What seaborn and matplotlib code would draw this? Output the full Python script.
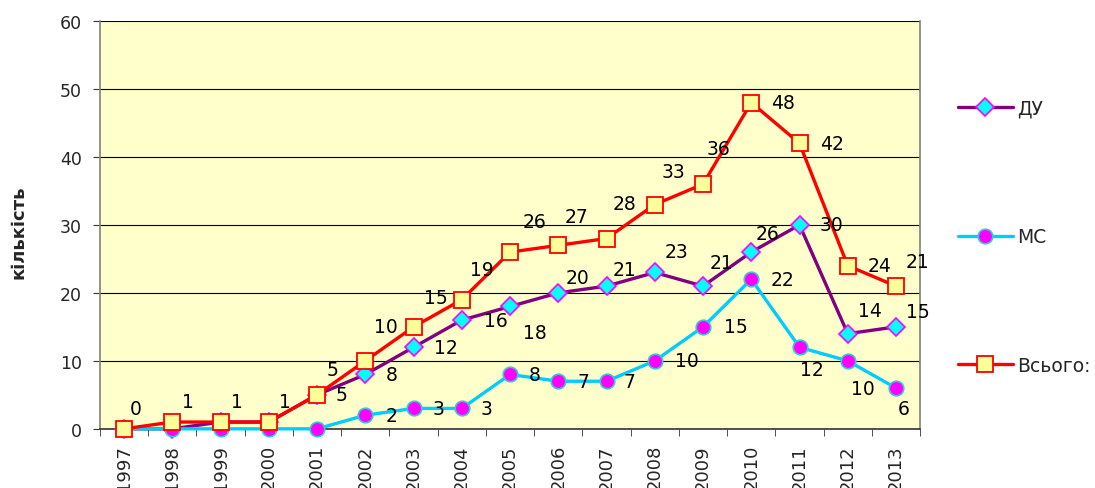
import numpy as np
import pandas as pd
import matplotlib
matplotlib.use("Agg")
import matplotlib.pyplot as plt
import seaborn as sns

# Chart data
years = [str(y) for y in range(1997, 2014)]
du = [0, 0, 1, 1, 5, 8, 12, 16, 18, 20, 21, 23, 21, 26, 30, 14, 15]
ms = [0, 0, 0, 0, 0, 2, 3, 3, 8, 7, 7, 10, 15, 22, 12, 10, 6]
total = [0, 1, 1, 1, 5, 10, 15, 19, 26, 27, 28, 33, 36, 48, 42, 24, 21]

# label offsets in pixels (dx, dy up); None = no label
total_off = [(12, 20), (16, 21), (16, 21), (16, 21), (15, 25), (21, 34), (22, 29),
             (20, 30), (24, 31), (18, 29), (18, 35), (19, 33), (15, 36), (32, 0),
             (32, 0), (32, 0), (21, 25)]
du_off = [None, None, None, None, (24, 0), (26, 0), (32, 0), (34, 0), (25, -26),
          (19, 15), (18, 17), (22, 21), (18, 24), (16, 19), (32, 0), (22, 23), (22, 15)]
ms_off = [None, None, None, None, None, (26, 0), (25, 0), (25, 0), (25, 0), (25, 0),
          (23, 0), (32, 0), (33, 0), (31, 0), (12, -22), (15, -28), (8, -20)]

df = pd.DataFrame({"pos": np.arange(len(years)), "ДУ": du, "МС": ms, "Всього:": total})

sns.set_style("white")
plt.rcParams["font.family"] = ["DejaVu Sans"]

fig = plt.figure(figsize=(10.95, 4.89), dpi=100)
ax = fig.add_axes([0.0913, 0.121, 0.749, 0.834])
ax.set_facecolor("#FFFFCC")

styles = {
    "ДУ": dict(color="#800080", marker="D", markersize=9, markerfacecolor="#00FFFF",
               markeredgecolor="#FF00FF", markeredgewidth=1.2),
    "МС": dict(color="#00CCFF", marker="o", markersize=10.5, markerfacecolor="#FF00FF",
               markeredgecolor="#33CCCC", markeredgewidth=1.2),
    "Всього:": dict(color="#FF0000", marker="s", markersize=11.5, markerfacecolor="#FFFF99",
                    markeredgecolor="#FF0000", markeredgewidth=1.3),
}
for name in ["ДУ", "МС", "Всього:"]:
    sns.lineplot(data=df, x="pos", y=name, ax=ax, label=name, linewidth=2.4,
                 zorder=3, clip_on=False, **styles[name])

for vals, offs in [(du, du_off), (ms, ms_off), (total, total_off)]:
    for i, (v, o) in enumerate(zip(vals, offs)):
        if o is None:
            continue
        ax.annotate(str(v), (i, v), xytext=(o[0], o[1]), textcoords="offset pixels",
                    ha="center", va="center", fontsize=13.5, color="black", zorder=5)

ax.set_xlim(-0.5, len(years) - 0.5)
ax.set_ylim(0, 60)
ax.set_yticks(range(0, 61, 10))
ax.tick_params(axis="y", labelsize=12.5, length=5, pad=8, direction="out", left=True,
               color="#333333")
ax.set_xticks(df["pos"])
ax.set_xticklabels(years, rotation=90, fontsize=13)
ax.set_xticks(np.arange(-0.5, len(years), 1), minor=True)
ax.tick_params(axis="x", which="major", length=0, pad=11)
ax.tick_params(axis="x", which="minor", length=5, direction="out", bottom=True, color="#333333")
ax.yaxis.grid(True, color="black", linewidth=0.8)
ax.set_axisbelow(True)
for s in ["left", "right", "bottom"]:
    ax.spines[s].set_color("#808080")
    ax.spines[s].set_linewidth(1.2)
ax.spines["bottom"].set_color("#333333")
ax.spines["top"].set_visible(False)

ax.set_xlabel("")
ax.set_ylabel("кількість", fontsize=13, fontweight="bold")
ax.yaxis.set_label_coords(-0.088, 0.485)

handles, labels = ax.get_legend_handles_labels()
ax.get_legend().remove()
fig.legend(handles, labels, loc="upper left", bbox_to_anchor=(0.8594, 0.831),
           frameon=False, fontsize=13.5, handlelength=2.93, labelspacing=5.85,
           handletextpad=0.25)

fig.savefig("out.png", dpi=100)
